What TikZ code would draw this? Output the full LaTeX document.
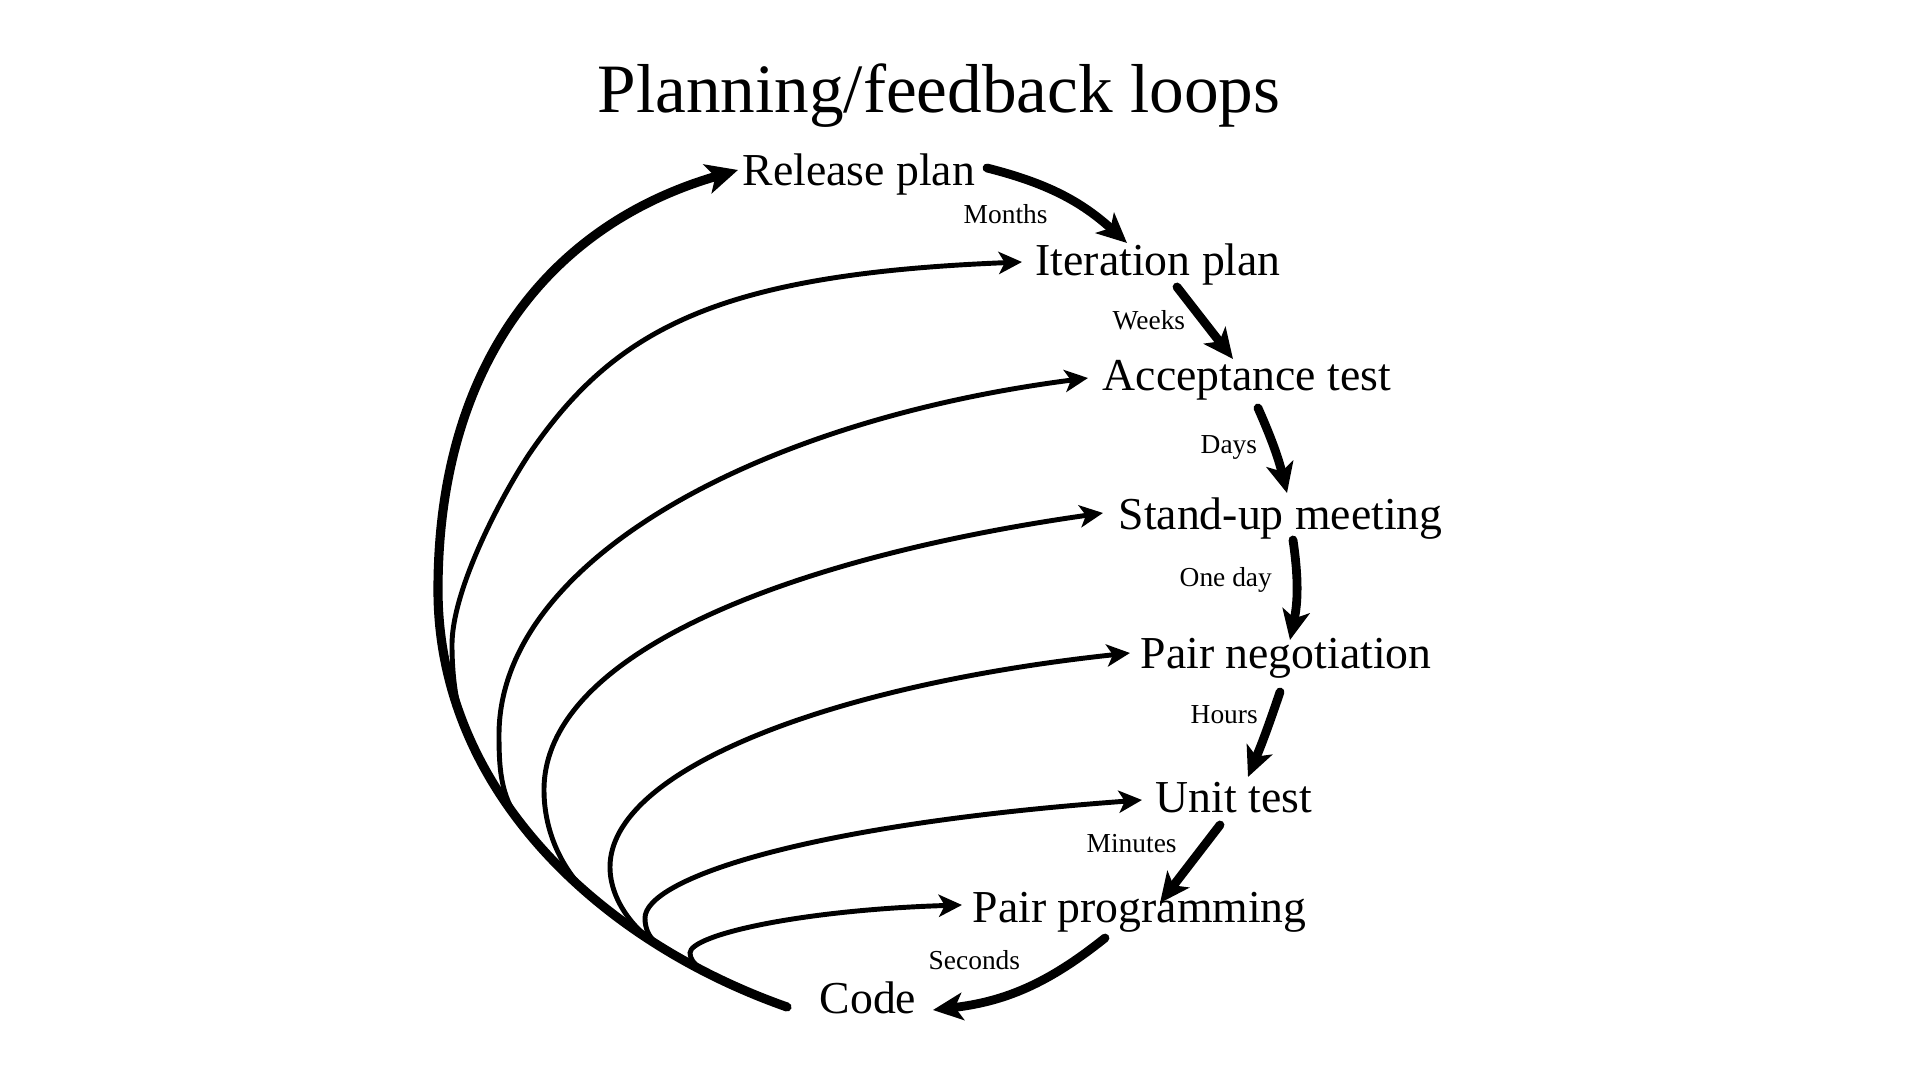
\documentclass[tikz,border=0pt]{standalone}
\usepackage{fontspec}
\setmainfont{Liberation Serif}
\usetikzlibrary{calc,arrows.meta}
\newcommand\splitat[2]{%
  \coordinate (#2a) at ($(s)!#1!(k1)$);
  \coordinate (#2b) at ($(k1)!#1!(k2)$);
  \coordinate (#2c) at ($(k2)!#1!(l)$);
  \coordinate (#2d) at ($(#2a)!#1!(#2b)$);
  \coordinate (#2e) at ($(#2b)!#1!(#2c)$);
  \coordinate (#2f) at ($(#2d)!#1!(#2e)$);
}
\begin{document}
\begin{tikzpicture}[x=0.01cm,y=-0.01cm,
  big/.style={font=\fontsize{13}{15}\selectfont, inner sep=0pt, anchor=base west},
  small/.style={font=\fontsize{7.8}{9}\selectfont, inner sep=0pt, anchor=base west},
  titlef/.style={font=\fontsize{19.7}{23}\selectfont, inner sep=0pt, anchor=base},
  flow/.style={line width=2.5pt, line cap=round, -{Stealth[length=8.5pt,width=7.8pt,inset=2.2pt]}},
  fb/.style={line width=1.4pt, -{Stealth[length=6.6pt,width=6.3pt,inset=1.7pt]}},
  fbthick/.style={line width=2.6pt, line cap=round, -{Stealth[length=9pt,width=8.5pt,inset=2.3pt]}}
]
\fill[white] (0,0) rectangle (1920,1080);
\useasboundingbox (0,0) rectangle (1920,1080);

\node[titlef] (title) at (939,113) {Planning/feedback loops};

\node[big] (rel)  at (742,186)  {Release plan};
\node[big] (it)   at (1035,276) {Iteration plan};
\node[big] (acc)  at (1102,391) {Acceptance test};
\node[big] (std)  at (1118,530) {Stand-up meeting};
\node[big] (pn)   at (1140,669) {Pair negotiation};
\node[big] (ut)   at (1155,813) {Unit test};
\node[big] (pp)   at (972,923)  {Pair programming};
\node[big] (code) at (819,1014) {Code};

\node[small] (l1) at (963,224)  {Months};
\node[small] (l2) at (1112,330) {Weeks};
\node[small] (l3) at (1200,454) {Days};
\node[small] (l4) at (1179,587) {One day};
\node[small] (l5) at (1190,724) {Hours};
\node[small] (l6) at (1086,853) {Minutes};
\node[small] (l7) at (928,970)  {Seconds};

% forward (downward) arrows
\coordinate (o1) at ($(rel.base west)+(245,-18)$);
\coordinate (i1) at ($(it.base west)+(92,-33)$);
\coordinate (o2) at ($(it.base west)+(142,11)$);
\coordinate (i2) at ($(acc.base west)+(131,-32)$);
\coordinate (o3) at ($(acc.base west)+(156,17)$);
\coordinate (i3) at ($(std.base west)+(169,-37)$);
\coordinate (o4) at ($(std.base west)+(175,10)$);
\coordinate (i4) at ($(pn.base west)+(150,-29)$);
\coordinate (o5) at ($(pn.base west)+(140,23)$);
\coordinate (i5) at ($(ut.base west)+(93,-36)$);
\coordinate (o6) at ($(ut.base west)+(65,12)$);
\coordinate (i6) at ($(pp.base west)+(188,-20)$);
\coordinate (o7) at ($(pp.base west)+(133,15)$);
\coordinate (i7) at ($(code.base west)+(114,-4)$);

\draw[flow] (o1) to[bend left=14] (i1);
\draw[flow] (o2) -- (i2);
\draw[flow] (o3) to[bend left=5] (i3);
\draw[flow] (o4) to[bend left=10] (i4);
\draw[flow] (o5) to[bend left=2] (i5);
\draw[flow] (o6) -- (i6);
\draw[flow] (o7) to[bend left=16] (i7);

% feedback loops
\coordinate (s)  at ($(code.base west)+(-32,-7)$);
\coordinate (k1) at (599,941);
\coordinate (k2) at (438,790);
\coordinate (l)  at (438,590);

\coordinate (t1) at ($(rel.base west)+(-4,-16)$);
\coordinate (t2) at ($(it.base west)+(-13,-14)$);
\coordinate (t3) at ($(acc.base west)+(-14,-13)$);
\coordinate (t4) at ($(std.base west)+(-15,-17)$);
\coordinate (t5) at ($(pn.base west)+(-10,-16)$);
\coordinate (t6) at ($(ut.base west)+(-13,-13)$);
\coordinate (t7) at ($(pp.base west)+(-10,-18)$);

\draw[fbthick] (s) .. controls (k1) and (k2) .. (l)
   .. controls (438,370) and (545,226) .. (t1);

\splitat{0.76}{m2}
\coordinate (p2) at (452,645);
\coordinate (q2) at (532,450);
\draw[fb] (s) .. controls (m2a) and (m2d) .. (m2f)
   .. controls ($(m2f)!-0.25cm!(m2d)$) and ($(p2)+(0,25)$) .. (p2)
   .. controls (452,585) and (509,483) .. (q2)
   .. controls (617.5,327) and ($(t2)+(-300,12)$) .. (t2);

\splitat{0.55}{m3}
\coordinate (p3) at (499,735);
\draw[fb] (s) .. controls (m3a) and (m3d) .. (m3f)
   .. controls ($(m3f)!-0.35cm!(m3d)$) and ($(p3)+(0,40)$) .. (p3)
   .. controls ($(p3)+(0,-175)$) and ($(t3)+(-328,42)$) .. (t3);

\splitat{0.38}{m4}
\coordinate (p4) at (544,790);
\draw[fb] (s) .. controls (m4a) and (m4d) .. (m4f)
   .. controls ($(m4f)!-0.35cm!(m4d)$) and ($(p4)+(0,45)$) .. (p4)
   .. controls ($(p4)+(0,-140)$) and ($(t4)+(-303,43)$) .. (t4);

\splitat{0.24}{m5}
\coordinate (p5) at (610,867);
\draw[fb] (s) .. controls (m5a) and (m5d) .. (m5f)
   .. controls ($(m5f)!-0.25cm!(m5d)$) and ($(p5)+(0,35)$) .. (p5)
   .. controls ($(p5)+(0,-97)$) and ($(t5)+(-300,32)$) .. (t5);

\splitat{0.2}{m6}
\coordinate (p6) at (645,918);
\draw[fb] (s) .. controls (m6a) and (m6d) .. (m6f)
   .. controls ($(m6f)!-0.2cm!(m6d)$) and ($(p6)+(0,22)$) .. (p6)
   .. controls ($(p6)+(0,-38)$) and ($(t6)+(-342,25)$) .. (t6);

\splitat{0.12}{m7}
\coordinate (p7) at (690,953);
\draw[fb] (s) .. controls (m7a) and (m7d) .. (m7f)
   .. controls ($(m7f)!-0.15cm!(m7d)$) and ($(p7)+(0,12)$) .. (p7)
   .. controls ($(p7)+(0,-18)$) and ($(t7)+(-162,5)$) .. (t7);
\end{tikzpicture}
\end{document}
